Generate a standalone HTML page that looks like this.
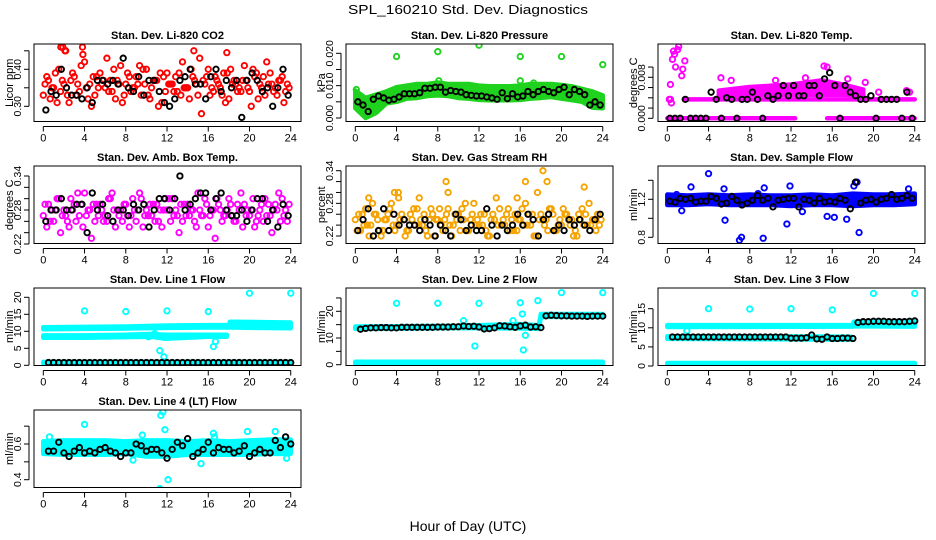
<!DOCTYPE html>
<html><head><meta charset="utf-8"><style>
html,body{margin:0;padding:0;background:#fff;}
svg{display:block;font-family:"Liberation Sans",sans-serif;}
</style></head><body>
<svg id="chart" width="936" height="540" viewBox="0 0 936 540" xmlns="http://www.w3.org/2000/svg">
<rect x="0" y="0" width="936" height="540" fill="#fff"/>
<text x="468" y="14" text-anchor="middle" font-size="13" textLength="240" lengthAdjust="spacingAndGlyphs">SPL_160210  Std. Dev. Diagnostics</text>
<text x="468" y="531" text-anchor="middle" font-size="14">Hour of Day (UTC)</text>
</svg>
<script>
// ---------- DATA ----------
const hours = [0,4,8,12,16,20,24];
// CO2
const co2A = [.33,.37,.35,.40,.36,.31,.38,.34,.42,.36,.33,.39,.35,.37,.32,.41,.36,.34,.38,.33,.40,.35,.37,.31,.39,.36,.34,.42,.35,.38,.33,.37,.40,.34,.36,.39,.32,.37,.35,.41,.34,.38,.36,.33,.39,.35,.37,.34];
const co2B = [.36,.32,.39,.34,.45,.37,.33,.41,.35,.30,.38,.36,.43,.34,.37,.31,.39,.35,.36,.40,.33,.37,.30,.38,.36,.34,.39,.35,.32,.37,.43,.36,.33,.38,.35,.31,.40,.36,.34,.37,.30,.39,.35,.42,.36,.33,.38,.36];
const co2C = [.38,.35,.31,.37,.33,.39,.36,.44,.32,.38,.35,.37,.34,.40,.36,.33,.38,.35,.41,.36,.32,.37,.39,.34,.36,.38,.33,.35,.40,.36,.28,.38,.35,.37,.33,.39,.36,.34,.37,.35,.40,.32,.38,.36,.34,.37,.31,.35];
const co2Black = [.29,.34,.33,.40,.35,.33,.33,.32,.35,.31,.37,.37,.36,.37,.36,.43,.35,.34,.38,.33,.37,.37,.34,.31,.30,.32,.37,.38,.40,.36,.36,.32,.38,.40,.34,.37,.35,.37,.27,.37,.39,.37,.34,.35,.30,.35,.40,.33];
const co2OutX = [1.7,1.9,2.1,3.8,14.6,17.8];
const co2OutY = [.46,.46,.45,.46,.45,.445];
// Pressure
const presBandT = [0,1,2,3,4,5,6,7,8,9,10,11,12,13,14,15,16,17,18,19,20,21,22,23,24];
const presHi = [.0085,.0062,.0072,.0082,.0095,.010,.0105,.0105,.011,.0105,.0105,.0105,.010,.0098,.0098,.0098,.010,.0105,.0105,.0105,.0102,.0098,.009,.0082,.007];
const presLo = [.003,.000,.0015,.0045,.005,.006,.0062,.0068,.007,.0068,.0062,.006,.0056,.0055,.0055,.0055,.0056,.006,.0062,.0065,.006,.0055,.005,.0032,.003];
const presOutX = [4,8,12,16,20,24,0.1,8.1,16,17.3];
const presOutY = [.019,.0205,.0225,.019,.019,.0165,.0088,.0115,.0115,.0108];
const presBlack = [.005,.004,.002,.0058,.0068,.0062,.0055,.0058,.0065,.0075,.0075,.0075,.0078,.0092,.0092,.0095,.0095,.008,.0085,.0082,.008,.0072,.007,.0068,.0068,.0065,.0062,.0058,.0078,.006,.0075,.0065,.0068,.0082,.0072,.0082,.0088,.0082,.0078,.0088,.0095,.0072,.0088,.0082,.0072,.004,.005,.004];
// Li-820 temp
const tmpRow0T = [0,12.4];
const tmpRow0Lo = [0,0];
const tmpRow0Hi = [0,0];
const tmpRow0bT = [15.5,24];
const tmpRow0bLo = [0,0];
const tmpRow0bHi = [0,0];
const tmpRow2T = [1.6,24];
const tmpRow2Lo = [.0037,.0037];
const tmpRow2Hi = [.0037,.0037];
const tmpCloudT = [5,8,12,15,17,19];
const tmpCloudLo = [.0044,.0046,.0046,.0046,.0046,.0044];
const tmpCloudHi = [.0054,.0061,.0066,.0074,.0066,.0056];
const tmpOutX = [0.3,0.5,0.6,0.7,0.8,1,1.1,1.4,1.5,1.7,0.3,0.4,5.2,15.2,15.5,6.2,10.5,13.4,17.5,19.2,20.5,23.2,23.5,0.2];
const tmpOutY = [.0037,.0115,.0131,.0125,.0100,.0134,.0140,.0083,.0096,.0112,.0066,.0030,.0079,.0102,.0100,.0074,.0074,.0079,.0077,.0070,.0051,.0054,.0051,.0037];
const tmpBlack = [0,0,0,.0037,0,0,0,0,.0051,.0037,0,.0040,.0037,0,.0037,.0037,.0051,.0037,0,.0044,.0037,.0044,.0064,.0044,.0064,.0044,.0044,.0064,.0064,.0044,.0077,.0089,.0064,0,.0064,.0051,.0044,.0037,.0037,.0044,0,.0037,.0037,.0037,.0037,0,.0051,0];
// Amb box temp
const ambA = [.27,.29,.26,.30,.28,.25,.29,.27,.31,.28,.26,.29,.27,.30,.25,.28,.29,.27,.26,.30,.28,.27,.29,.25,.28,.30,.27,.26,.29,.28,.31,.27,.25,.28,.29,.27,.30,.26,.28,.29,.27,.25,.28,.30,.27,.29,.26,.28];
const ambB = [.29,.26,.28,.24,.27,.30,.26,.29,.27,.23,.29,.28,.26,.31,.28,.26,.27,.30,.28,.25,.27,.29,.26,.28,.30,.27,.24,.29,.27,.26,.28,.30,.27,.23,.28,.27,.29,.26,.31,.27,.28,.26,.29,.27,.24,.28,.30,.26];
const ambC = [.25,.28,.30,.27,.26,.28,.31,.25,.28,.29,.27,.26,.30,.28,.27,.29,.25,.28,.31,.27,.29,.26,.28,.30,.26,.28,.29,.27,.28,.25,.27,.29,.28,.30,.26,.28,.27,.29,.25,.28,.30,.27,.26,.29,.28,.31,.27,.29];
const ambBlack = [.26,.28,.28,.30,.28,.28,.29,.29,.24,.31,.28,.29,.27,.26,.28,.28,.27,.29,.28,.29,.25,.28,.30,.30,.28,.30,.34,.28,.29,.30,.31,.31,.28,.30,.31,.28,.27,.27,.28,.26,.28,.30,.30,.26,.28,.25,.29,.27];
// RH
const rhA = [.25,.23,.27,.24,.26,.22,.25,.28,.24,.26,.23,.25,.27,.24,.22,.26,.25,.23,.27,.24,.26,.25,.23,.28,.24,.26,.22,.25,.27,.24,.23,.26,.25,.28,.24,.22,.26,.25,.27,.23,.24,.26,.25,.22,.27,.24,.25,.26];
const rhB = [.23,.26,.24,.28,.25,.23,.26,.24,.30,.25,.23,.27,.24,.26,.25,.22,.27,.25,.24,.26,.23,.28,.25,.24,.26,.23,.25,.29,.24,.26,.25,.23,.27,.24,.26,.30,.25,.23,.26,.24,.27,.25,.22,.26,.24,.28,.25,.24];
const rhC = [.26,.24,.22,.26,.23,.25,.27,.23,.25,.22,.26,.24,.25,.23,.27,.25,.24,.26,.22,.25,.27,.23,.26,.25,.24,.22,.26,.24,.25,.27,.23,.25,.24,.26,.22,.25,.24,.27,.23,.25,.26,.24,.23,.25,.26,.24,.23,.25];
const rhBlack = [.23,.25,.27,.22,.23,.27,.23,.26,.24,.25,.24,.24,.23,.25,.24,.22,.24,.23,.22,.26,.25,.23,.24,.23,.23,.27,.24,.22,.24,.23,.24,.26,.24,.26,.25,.22,.25,.26,.23,.24,.23,.25,.24,.25,.24,.23,.25,.26];
const rhOutX = [3.8,8.8,9.0,16.5,18.2,18.6,22.2,4.2,6.2,1.3,15.7];
const rhOutY = [.30,.32,.30,.32,.34,.32,.31,.29,.29,.29,.29];
// Sample flow
const sfBandT = [0,2,4,6,8,10,12,14,16,18,20,22,24];
const sfLo = [1.14,1.14,1.15,1.14,1.14,1.14,1.13,1.14,1.14,1.13,1.14,1.14,1.15];
const sfHi = [1.25,1.24,1.25,1.24,1.25,1.24,1.24,1.25,1.24,1.26,1.25,1.25,1.26];
const sfOutX = [0.9,2.3,4.0,5.5,5.6,7,7.2,8.8,9.3,9.4,11.6,11.9,13.1,15.5,16.2,17.4,18.1,18.4,18.6,23.4,1.4];
const sfOutY = [1.25,1.33,1.47,1.31,0.98,0.77,0.80,1.26,0.79,1.32,0.94,1.34,1.07,1.02,1.01,0.99,1.34,1.38,0.85,1.31,1.08];
const sfBlack = [1.18,1.17,1.21,1.20,1.21,1.17,1.18,1.18,1.23,1.21,1.15,1.16,1.23,1.19,1.14,1.16,1.19,1.24,1.19,1.21,1.12,1.19,1.20,1.21,1.21,1.12,1.20,1.19,1.16,1.21,1.17,1.18,1.17,1.21,1.19,1.10,1.38,1.16,1.19,1.20,1.17,1.20,1.21,1.25,1.20,1.21,1.24,1.21];
// Line 1 flow
const l1aT = [0,4,8,12,16,18,18.1,24];
const l1aLo = [10.6,10.7,10.8,11,11.1,11.1,11.1,10.9];
const l1aHi = [11.2,11.3,11.4,11.7,11.8,11.8,12.8,12.6];
const l1bT = [0,4,8,10.5,11.8,16,17.8];
const l1bLo = [8.1,8.1,8.3,8.4,7.8,8.4,8.4];
const l1bHi = [8.8,8.8,9.0,9.2,9.0,9.0,9.0];
const l1cT = [0,24];
const l1cLo = [.6,.6];
const l1cHi = [1.0,1.0];
const l1OutX = [4,8,12,16,20,24,11.3,11.7,16.5,16.7,10.2,10.8];
const l1OutY = [16,15.8,16,15.8,21.2,21.2,4.3,2.5,5.5,7,8.4,9.3];
const l1Black = [.8,.8,.8,.8,.8,.8,.8,.8,.8,.8,.8,.8,.8,.8,.8,.8,.8,.8,.8,.8,.8,.8,.8,.8,.8,.8,.8,.8,.8,.8,.8,.8,.8,.8,.8,.8,.8,.8,.8,.8,.8,.8,.8,.8,.8,.8,.8,.8];
// Line 2 flow
const l2rT = [0,24];
const l2rLo = [.4,.4];
const l2rHi = [1.1,1.1];
const l2aT = [0,10,16,17.8,18,24];
const l2aLo = [13.4,13.7,13.6,13.4,17.9,17.9];
const l2aHi = [14.3,14.6,15.2,14.8,19.0,19.0];
const l2OutX = [4,8,12,16,17.7,20,24,11.6,16.3,16.2,10.5,15.3,16.5];
const l2OutY = [23,23,23,23.2,24,27,27,7,5.5,19,16.5,16.5,11];
const l2Black = [13.3,13.6,13.8,13.8,13.9,13.9,13.8,13.8,14,14,14,14,14,14,14,14.1,14.1,14.1,14.2,14.2,14.5,14.3,14.4,14.1,13.4,13.5,13.8,14.6,14.5,14.2,14.0,14.5,14.8,14.1,14.2,13.9,18.3,18.5,18.4,18.3,18.3,18.2,18.2,18.2,18.1,18.2,18.2,18.2];
// Line 3 flow
const l3rT = [0,24];
const l3rLo = [.5,.5];
const l3rHi = [.8,.8];
const l3aT = [0,18,18.1,24];
const l3aLo = [10.2,10.3,10.4,10.3];
const l3aHi = [10.7,10.7,11.6,11.8];
const l3bT = [0,17.8];
const l3bLo = [7.1,6.9];
const l3bHi = [7.8,7.7];
const l3OutX = [4,8,12,16,20,24,1.9];
const l3OutY = [15,14.9,15,14.7,19,19,9.2];
const l3Black = [7.6,7.6,7.6,7.6,7.6,7.6,7.6,7.6,7.6,7.6,7.6,7.6,7.6,7.6,7.6,7.6,7.6,7.6,7.6,7.6,7.6,7.6,7.6,7.3,7.3,7.3,7.4,8.1,7.1,7.0,7.6,7.2,7.2,7.3,7.3,7.2,11.4,11.6,11.6,11.7,11.7,11.7,11.6,11.6,11.6,11.6,11.7,11.8];
// Line 4 flow
const l4BandT = [0,2,4,6,8,10,12,14,16,18,20,22,24];
const l4Lo = [.545,.54,.54,.54,.545,.53,.53,.54,.54,.54,.54,.545,.545];
const l4Hi = [.615,.62,.62,.62,.615,.62,.62,.615,.62,.615,.62,.625,.625];
const l4OutX = [4,11.4,11.6,11.8,12.1,11.3,16.5,16.6,19.8,22.5,23.6,15.3,8.7,0.6,9.6];
const l4OutY = [.71,.76,.78,.68,.40,.35,.66,.64,.67,.67,.52,.49,.51,.64,.65];
const l4Black = [.56,.56,.61,.55,.53,.56,.58,.55,.56,.55,.57,.58,.56,.55,.53,.55,.55,.60,.59,.56,.57,.57,.55,.52,.57,.61,.59,.63,.53,.55,.57,.61,.55,.58,.57,.57,.55,.56,.59,.53,.55,.57,.55,.55,.62,.58,.64,.60];

// ---------- AXIS FRAMEWORK ----------
const NS = "http://www.w3.org/2000/svg";
const svg = document.getElementById('chart');
function mk(tag, attrs, parent){
  const e = document.createElementNS(NS, tag);
  for (const k in attrs) e.setAttribute(k, attrs[k]);
  (parent||svg).appendChild(e);
  return e;
}
const panels = [
 {id:'co2',title:'Stan. Dev. Li-820 CO2',ylab:'Licor ppm',c:0,r:0,ref:[0.30,106.3,0.40,69.3],ticks:[.30,.35,.40,.45],labels:['0.30','','0.40','']},
 {id:'pressure',title:'Stan. Dev. Li-820 Pressure',ylab:'kPa',c:1,r:0,ref:[0,118,0.02,53.3],ticks:[0,.005,.01,.015,.02],labels:['0.000','','0.010','','0.020']},
 {id:'li820-temp',title:'Stan. Dev. Li-820 Temp.',ylab:'degrees C',c:2,r:0,ref:[0,118.3,0.008,77.3],ticks:[0,.002,.004,.006,.008,.010],labels:['0.000','','','','0.008','']},
 {id:'amb-box-temp',title:'Stan. Dev. Amb. Box Temp.',ylab:'degrees C',c:0,r:1,ref:[0.28,210,0.34,176],ticks:[.22,.24,.26,.28,.30,.32,.34],labels:['0.22','','','0.28','','','0.34']},
 {id:'gas-stream-rh',title:'Stan. Dev. Gas Stream RH',ylab:'percent',c:1,r:1,ref:[0.22,236,0.34,170.7],ticks:[.22,.24,.26,.28,.30,.32,.34],labels:['0.22','','','0.28','','','0.34']},
 {id:'sample-flow',title:'Stan. Dev. Sample Flow',ylab:'ml/min',c:2,r:1,ref:[0.8,237.3,1.2,199.3],ticks:[.8,1.0,1.2,1.4],labels:['0.8','','1.2','']},
 {id:'line1-flow',title:'Stan. Dev. Line 1 Flow',ylab:'ml/min',c:0,r:2,ref:[0,365.3,20,297.3],ticks:[0,5,10,15,20],labels:['0','5','10','15','20']},
 {id:'line2-flow',title:'Stan. Dev. Line 2 Flow',ylab:'ml/min',c:1,r:2,ref:[0,364.7,20,311.3],ticks:[0,5,10,15,20,25],labels:['0','','10','','20','']},
 {id:'line3-flow',title:'Stan. Dev. Line 3 Flow',ylab:'ml/min',c:2,r:2,ref:[0,366,15,308.7],ticks:[0,5,10,15],labels:['0','5','10','15']},
 {id:'line4-flow',title:'Stan. Dev. Line 4 (LT) Flow',ylab:'ml/min',c:0,r:3,ref:[0.4,479.7,0.6,444],ticks:[.4,.5,.6,.7],labels:['0.4','','0.6','']}
];
const P = {};
panels.forEach(p => {
  p.left = 34 + 312*p.c; p.right = 301 + 312*p.c;
  p.top = 44 + 122*p.r; p.bottom = 121.5 + 122*p.r;
  p.x0 = 43.3 + 312*p.c; p.kx = 10.31;
  p.sx = t => p.x0 + t*p.kx;
  p.sy = v => p.ref[1] + (v - p.ref[0]) * (p.ref[3]-p.ref[1])/(p.ref[2]-p.ref[0]);
  const g = mk('g', {});
  
  
  p.g = g;
  const clip = mk('clipPath', {id:'clip-'+p.id}, g);
  mk('rect', {x:p.left, y:p.top, width:p.right-p.left, height:p.bottom-p.top}, clip);
  const t = mk('text', {x:(p.left+p.right)/2, y:p.top-5, 'text-anchor':'middle', 'font-size':11, 'font-weight':'bold'}, g);
  
  
  t.textContent = p.title;
  const yl = mk('text', {x:0, y:0, 'text-anchor':'middle', 'font-size':11, transform:`translate(${p.left-21},${(p.top+p.bottom)/2}) rotate(-90)`}, g);
  
  
  yl.textContent = p.ylab;
  const ya = mk('g', {}, g);
  
  
  mk('line', {x1:p.left-5, x2:p.left-5, y1:p.sy(p.ticks[0]), y2:p.sy(p.ticks[p.ticks.length-1]), stroke:'#000'}, ya);
  p.ticks.forEach((v,i) => {
    const y = p.sy(v);
    mk('line', {x1:p.left-10, x2:p.left-5, y1:y, y2:y, stroke:'#000'}, ya);
    if (p.labels[i]) {
      const tl = mk('text', {x:0, y:0, 'text-anchor':'middle', 'font-size':10.5, transform:`translate(${p.left-13},${y}) rotate(-90)`}, ya);
      
      
      tl.textContent = p.labels[i];
    }
  });
  const xa = mk('g', {}, g);
  
  
  mk('line', {x1:p.sx(0), x2:p.sx(24), y1:p.bottom+5, y2:p.bottom+5, stroke:'#000'}, xa);
  hours.forEach(h => {
    const x = p.sx(h);
    mk('line', {x1:x, x2:x, y1:p.bottom+5, y2:p.bottom+10, stroke:'#000'}, xa);
    const tl = mk('text', {x:x, y:p.bottom+20, 'text-anchor':'middle', 'font-size':11}, xa);
    
    
    tl.textContent = String(h);
  });
  p.plot = mk('g', {'clip-path':`url(#clip-${p.id})`}, g);
  
  
  P[p.id] = p;
});
function band(id, T, lo, hi, color, name){
  const p = P[id];
  const pts = [];
  T.forEach((t,i) => pts.push(p.sx(t)+','+p.sy(hi[i])));
  for (let i=T.length-1;i>=0;i--) pts.push(p.sx(T[i])+','+p.sy(lo[i]));
  const e = mk('polygon', {points:pts.join(' '), fill:color, stroke:color, 'stroke-width':4.5, 'stroke-linejoin':'round'}, p.plot);
  
  
}
function pts(id, X, Y, color, name){
  const p = P[id];
  Y.forEach((v,i) => {
    const e = mk('circle', {cx:p.sx(X[i]), cy:p.sy(v), r:2.7, fill:'none', stroke:color, 'stroke-width':1.9}, p.plot);
    
    
  });
}
function series(id, Y, t0, color, name){
  const p = P[id];
  Y.forEach((v,i) => {
    const e = mk('circle', {cx:p.sx(t0 + i*0.5), cy:p.sy(v), r:2.7, fill:'none', stroke:color, 'stroke-width':1.9}, p.plot);
    
    
  });
}
const RED='#ff0000', GRN='#1ed21e', MAG='#ff00ff', ORG='#f5a300', BLU='#0000ff', CYN='#00ffff', BLK='#000';
series('co2', co2A, 0.0, RED, 'co2-point'); series('co2', co2B, 0.17, RED, 'co2-point'); series('co2', co2C, 0.34, RED, 'co2-point');
pts('co2', co2OutX, co2OutY, RED, 'co2-point');
series('co2', co2Black, 0.25, BLK, 'co2-black-point');
band('pressure', presBandT, presLo, presHi, GRN, 'pressure-cloud');
pts('pressure', presOutX, presOutY, GRN, 'pressure-point');
series('pressure', presBlack, 0.25, BLK, 'pressure-black-point');
band('li820-temp', tmpRow0T, tmpRow0Lo, tmpRow0Hi, MAG, 'temp-zero-row');
band('li820-temp', tmpRow0bT, tmpRow0bLo, tmpRow0bHi, MAG, 'temp-zero-row');
band('li820-temp', tmpRow2T, tmpRow2Lo, tmpRow2Hi, MAG, 'temp-row');
band('li820-temp', tmpCloudT, tmpCloudLo, tmpCloudHi, MAG, 'temp-cloud');
pts('li820-temp', tmpOutX, tmpOutY, MAG, 'temp-point');
series('li820-temp', tmpBlack, 0.25, BLK, 'temp-black-point');
series('amb-box-temp', ambA, 0.0, MAG, 'amb-point'); series('amb-box-temp', ambB, 0.17, MAG, 'amb-point'); series('amb-box-temp', ambC, 0.34, MAG, 'amb-point');
series('amb-box-temp', ambBlack, 0.25, BLK, 'amb-black-point');
series('gas-stream-rh', rhA, 0.0, ORG, 'rh-point'); series('gas-stream-rh', rhB, 0.17, ORG, 'rh-point'); series('gas-stream-rh', rhC, 0.34, ORG, 'rh-point');
pts('gas-stream-rh', rhOutX, rhOutY, ORG, 'rh-point');
series('gas-stream-rh', rhBlack, 0.25, BLK, 'rh-black-point');
band('sample-flow', sfBandT, sfLo, sfHi, BLU, 'sample-flow-cloud');
pts('sample-flow', sfOutX, sfOutY, BLU, 'sample-flow-point');
series('sample-flow', sfBlack, 0.25, BLK, 'sample-flow-black-point');
band('line1-flow', l1aT, l1aLo, l1aHi, CYN, 'line1-upper-band');
band('line1-flow', l1bT, l1bLo, l1bHi, CYN, 'line1-lower-band');
band('line1-flow', l1cT, l1cLo, l1cHi, CYN, 'line1-zero-band');
pts('line1-flow', l1OutX, l1OutY, CYN, 'line1-point');
series('line1-flow', l1Black, 0.5, BLK, 'line1-black-point');
band('line2-flow', l2rT, l2rLo, l2rHi, CYN, 'line2-zero-band');
band('line2-flow', l2aT, l2aLo, l2aHi, CYN, 'line2-band');
pts('line2-flow', l2OutX, l2OutY, CYN, 'line2-point');
series('line2-flow', l2Black, 0.5, BLK, 'line2-black-point');
band('line3-flow', l3rT, l3rLo, l3rHi, CYN, 'line3-zero-band');
band('line3-flow', l3aT, l3aLo, l3aHi, CYN, 'line3-upper-band');
band('line3-flow', l3bT, l3bLo, l3bHi, CYN, 'line3-lower-band');
pts('line3-flow', l3OutX, l3OutY, CYN, 'line3-point');
series('line3-flow', l3Black, 0.5, BLK, 'line3-black-point');
band('line4-flow', l4BandT, l4Lo, l4Hi, CYN, 'line4-band');
pts('line4-flow', l4OutX, l4OutY, CYN, 'line4-point');
series('line4-flow', l4Black, 0.5, BLK, 'line4-black-point');
panels.forEach(p => {
  const b = mk('rect', {x:p.left, y:p.top, width:p.right-p.left, height:p.bottom-p.top, fill:'none', stroke:'#000', 'stroke-width':1}, p.g);
  
  
});
</script>
</body></html>
